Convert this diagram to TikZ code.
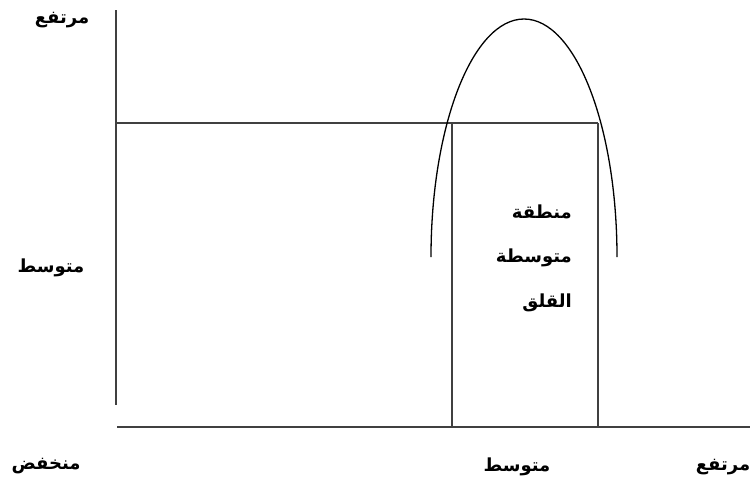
\documentclass[tikz,border=0pt]{standalone}
\usepackage{fontspec}
\newfontfamily\arabicfont[Script=Arabic,BoldFont={DejaVu Sans Bold}]{DejaVu Sans}
\TeXXeTstate=1
\begin{document}
\begin{tikzpicture}[x=1pt,y=-1pt,
  axis/.style={draw=black!75,line width=1.7pt},
  arch/.style={draw=black,line width=1.3pt},
  lbl/.style={font=\arabicfont\bfseries\fontsize{18}{20}\selectfont,inner sep=0pt}]
\useasboundingbox (0,0) rectangle (753,488);
% axes
\coordinate (ytop) at (116,10);
\coordinate (ybot) at (116,405);
\coordinate (xl) at (117,427);
\coordinate (xr) at (750,427);
\draw[axis] (ytop) -- (ybot);
\draw[axis] (xl) -- (xr);
% horizontal line and inner rectangle
\coordinate (hl) at (116,123);
\coordinate (rtl) at (452,123);
\coordinate (rtr) at (598,123);
\coordinate (rbl) at (452,427);
\coordinate (rbr) at (598,427);
\draw[axis] (hl) -- (rtr);
\draw[axis] (rbl) -- (rtl);
\draw[axis] (rtr) -- (rbr);
% arch
\coordinate (archL) at (431,257);
\draw[arch] (archL) arc[start angle=180,end angle=360,x radius=93,y radius=238];
% labels
\node[lbl] (yhigh) at (62,20) {\beginR مرتفع\endR};
\node[lbl] (ymid) at (51,268) {\beginR متوسط\endR};
\node[lbl] (ylow) at (46,466) {\beginR منخفض\endR};
\node[lbl] (xmid) at (517,467) {\beginR متوسط\endR};
\node[lbl] (xhigh) at (723,467) {\beginR مرتفع\endR};
\node[lbl,anchor=east] (z1) at (572,212) {\beginR منطقة\endR};
\node[lbl,anchor=east] (z2) at (572,258) {\beginR متوسطة\endR};
\node[lbl,anchor=east] (z3) at (572,303) {\beginR القلق\endR};
\end{tikzpicture}
\end{document}
